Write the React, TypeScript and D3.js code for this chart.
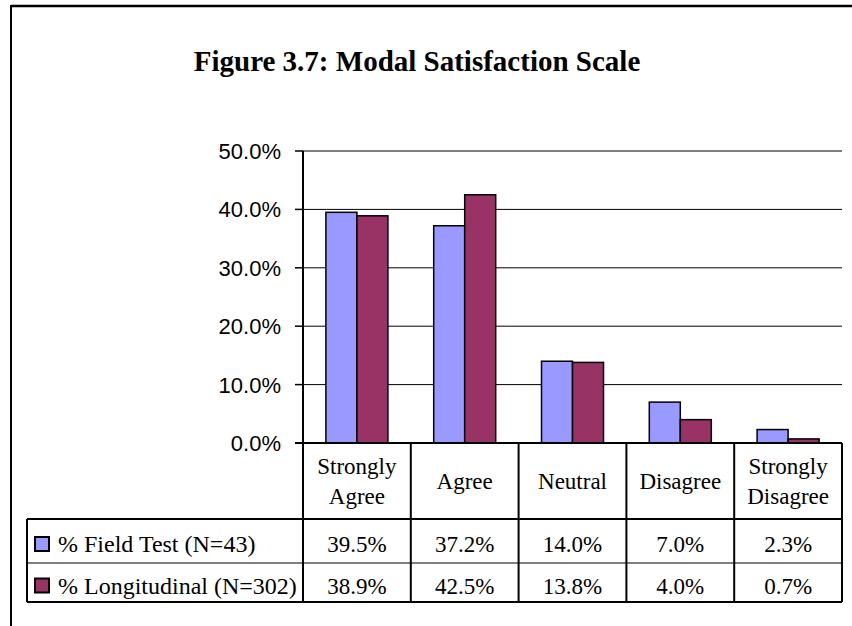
import React from "react";
import * as d3 from "d3";

const categories = ["Strongly Agree", "Agree", "Neutral", "Disagree", "Strongly Disagree"];
const categoryLines = [["Strongly", "Agree"], ["Agree"], ["Neutral"], ["Disagree"], ["Strongly", "Disagree"]];
const seriesNames = ["% Field Test (N=43)", "% Longitudinal (N=302)"];
const fieldTest = [39.5, 37.2, 14.0, 7.0, 2.3];
const longitudinal = [38.9, 42.5, 13.8, 4.0, 0.7];
const seriesColors = ["#9999FF", "#993366"];
const yTicks = [0, 10, 20, 30, 40, 50];
const title = "Figure 3.7: Modal Satisfaction Scale";

const W = 852;
const H = 626;

export default function App() {
  const series = [fieldTest, longitudinal];
  const left = 303;
  const right = 842;
  const top = 151;
  const bottom = 443;
  const x = d3.scaleBand<string>().domain(categories).range([left, right]).paddingInner(0).paddingOuter(0);
  const y = d3.scaleLinear().domain([0, 50]).range([bottom, top]);
  const barW = 31;
  const fmt = (v: number) => v.toFixed(1) + "%";
  const headerBottom = 519;
  const rowTops = [519, 563];
  const rowBottoms = [563, 602];
  const tableLeft = 27;
  const serif = "'Liberation Serif', 'Times New Roman', serif";
  const sans = "'Liberation Sans', Arial, sans-serif";
  const edges = categories.map((c) => x(c)!).concat([right]);

  return (
    <svg width={W} height={H} style={{ position: "absolute", left: 0, top: 0, background: "#fff" }}>
      <rect x={0} y={0} width={W} height={H} fill="#fff" />
      {/* frame */}
      <line x1={11} y1={6} x2={W} y2={6} stroke="#000" strokeWidth={2.5} />
      <line x1={11} y1={5} x2={11} y2={H} stroke="#000" strokeWidth={2} />
      {/* title */}
      <text x={417} y={71} textAnchor="middle" fontFamily={serif} fontWeight="bold" fontSize={29}>
        {title}
      </text>
      {/* gridlines and ticks */}
      {yTicks.map((t) => (
        <g key={t}>
          {t > 0 && <line x1={left} x2={right} y1={y(t)} y2={y(t)} stroke="#000" strokeWidth={1} />}
          <line x1={295} x2={left} y1={y(t)} y2={y(t)} stroke="#000" strokeWidth={1.5} />
          <text x={281} y={y(t) + 8} textAnchor="end" fontFamily={sans} fontSize={22} fill="#000">
            {t.toFixed(1) + "%"}
          </text>
        </g>
      ))}
      {/* bars */}
      {categories.map((c, i) => {
        const cx = x(c)! + x.bandwidth() / 2;
        return series.map((s, k) => (
          <rect
            key={c + k}
            x={cx - barW + k * barW}
            y={y(s[i])}
            width={barW}
            height={bottom - y(s[i])}
            fill={seriesColors[k]}
            stroke="#000"
            strokeWidth={1.5}
          />
        ));
      })}
      {/* axes */}
      <line x1={left} x2={left} y1={top} y2={bottom} stroke="#000" strokeWidth={2} />
      <line x1={295} x2={right} y1={bottom} y2={bottom} stroke="#000" strokeWidth={2} />
      {/* table verticals */}
      {edges.map((e, i) => (
        <line key={"v" + i} x1={e} x2={e} y1={bottom} y2={rowBottoms[1]} stroke="#000" strokeWidth={2} />
      ))}
      <line x1={tableLeft} x2={tableLeft} y1={headerBottom} y2={rowBottoms[1]} stroke="#000" strokeWidth={2} />
      <line x1={tableLeft} x2={right} y1={headerBottom} y2={headerBottom} stroke="#000" strokeWidth={2} />
      <line x1={tableLeft} x2={right} y1={rowBottoms[0]} y2={rowBottoms[0]} stroke="#000" strokeWidth={1} />
      <line x1={tableLeft} x2={right} y1={rowBottoms[1]} y2={rowBottoms[1]} stroke="#000" strokeWidth={2} />
      {/* header labels */}
      {categories.map((c, i) => {
        const cx = x(c)! + x.bandwidth() / 2;
        const lines = categoryLines[i];
        const mid = (bottom + headerBottom) / 2;
        const lh = 30;
        return lines.map((ln, j) => (
          <text
            key={c + j}
            x={cx}
            y={mid + 8 + (j - (lines.length - 1) / 2) * lh}
            textAnchor="middle"
            fontFamily={serif}
            fontSize={23}
          >
            {ln}
          </text>
        ));
      })}
      {/* rows */}
      {series.map((s, k) => {
        const mid = (rowTops[k] + rowBottoms[k]) / 2;
        return (
          <g key={"row" + k}>
            <rect x={35} y={mid - 4} width={14} height={14} fill={seriesColors[k]} stroke="#000" strokeWidth={2} />
            <text x={58} y={mid + 11} fontFamily={serif} fontSize={24}>
              {seriesNames[k]}
            </text>
            {categories.map((c, i) => (
              <text key={c} x={x(c)! + x.bandwidth() / 2} y={mid + 11} textAnchor="middle" fontFamily={serif} fontSize={23}>
                {fmt(s[i])}
              </text>
            ))}
          </g>
        );
      })}
    </svg>
  );
}
